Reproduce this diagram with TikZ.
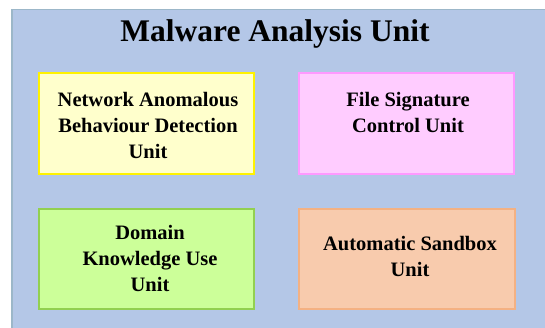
\documentclass[tikz,border=0pt]{standalone}
\usepackage{fontspec}
\setmainfont{Liberation Serif}
\begin{document}
\begin{tikzpicture}[x=1pt,y=-1pt,
  unitbox/.style={draw, line width=2pt},
  lbl/.style={align=center, font=\bfseries\fontsize{20.5}{26}\selectfont, inner sep=0pt, anchor=center}]
\useasboundingbox (0,0) rectangle (545,328);
\begin{scope}
\clip (0,0) rectangle (545,328);
\node[draw=blue!40!cyan!30!gray!60, fill={rgb,255:red,180;green,199;blue,231}, line width=1.5pt, minimum width=560pt, minimum height=340pt, anchor=north west] (outer) at (11,9) {};
\end{scope}
\node[font=\bfseries\fontsize{31.5}{36}\selectfont, inner sep=0pt] (title) at (275,34) {Malware Analysis Unit};
\definecolor{yfill}{RGB}{255,255,204}
\definecolor{pfill}{RGB}{255,204,255}
\definecolor{pdraw}{RGB}{255,153,255}
\definecolor{gfill}{RGB}{204,255,153}
\definecolor{gdraw}{RGB}{146,208,80}
\definecolor{ofill}{RGB}{248,203,173}
\definecolor{odraw}{RGB}{244,177,131}
\node[unitbox, draw=yellow, fill=yfill, minimum width=215pt, minimum height=101pt, anchor=north west] (nab) at (38,72) {};
\node[unitbox, draw=pdraw, fill=pfill, minimum width=215pt, minimum height=101pt, anchor=north west] (fsc) at (298,72) {};
\node[unitbox, draw=gdraw, fill=gfill, minimum width=215pt, minimum height=100pt, anchor=north west] (dku) at (38,208) {};
\node[unitbox, draw=odraw, fill=ofill, minimum width=216pt, minimum height=100pt, anchor=north west] (asu) at (298,208) {};
\node[lbl] (t1) at (148,125) {Network Anomalous\\Behaviour Detection\\Unit};
\node[lbl] (t2) at (408,112) {File Signature\\Control Unit};
\node[lbl] (t3) at (150,258) {Domain\\Knowledge Use\\Unit};
\node[lbl] (t4) at (410,256) {Automatic Sandbox\\Unit};
\end{tikzpicture}
\end{document}
